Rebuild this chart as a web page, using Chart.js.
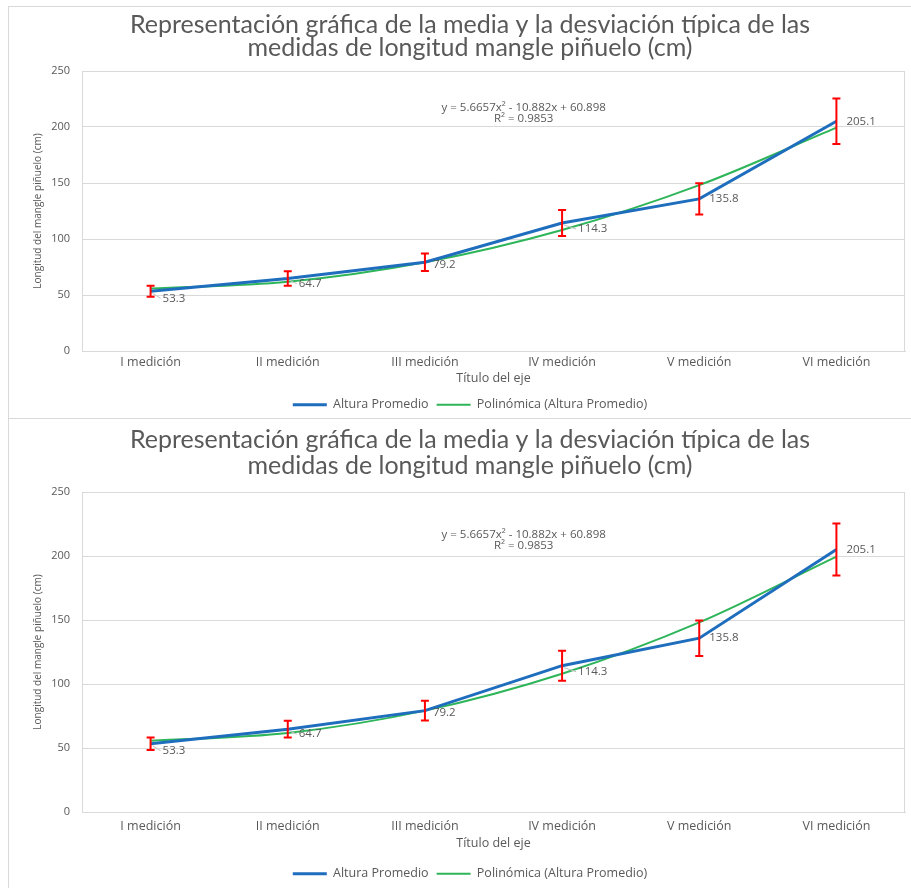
<!DOCTYPE html>
<html lang="es">
<head>
<meta charset="utf-8">
<title>Longitud mangle piñuelo</title>
<script src="https://cdn.jsdelivr.net/npm/chart.js@4/dist/chart.umd.min.js"></script>
<style>
  html, body { margin: 0; padding: 0; background: #ffffff; }
  body { width: 911px; height: 888px; position: relative; overflow: hidden; }
  .panel { position: absolute; left: 8px; width: 902px; border-left: 1px solid #d9d9d9; }
  #panel1 { top: 6px; height: 411px; border-top: 1px solid #d9d9d9; border-bottom: 1px solid #d9d9d9; }
  #panel2 { top: 419px; height: 469px; }
  canvas { display: block; }
</style>
</head>
<body>
<div class="panel" id="panel1"><canvas id="grafico1" width="902" height="411"></canvas></div>
<div class="panel" id="panel2"><canvas id="grafico2" width="902" height="469"></canvas></div>
<script>
// mediciones y valores promedio (cm)
let categorias = ["I medición", "II medición", "III medición", "IV medición", "V medición", "VI medición"];
let alturaPromedio = [53.3, 64.7, 79.2, 114.3, 135.8, 205.1];
let desviacionTipica = [4.9, 6.5, 7.8, 11.7, 13.9, 20.3];
let tendencia = [55.7, 61.8, 79.2, 108.0, 148.1, 199.5];
let ecuacion = ["y = 5.6657x² - 10.882x + 60.898", "R² = 0.9853"];
let ejeY = { min: 0, max: 250, paso: 50 };

let titulo = ["Representación gráfica de la media y la desviación típica de las",
  "medidas de longitud mangle piñuelo (cm)"];

const gris = "#595959";
const grisLinea = "#d9d9d9";

// barras de error rojas sobre la serie principal
const barrasError = {
  id: "barrasError",
  afterDatasetsDraw(chart) {
    const meta = chart.getDatasetMeta(0);
    const y = chart.scales.y;
    const ctx = chart.ctx;
    ctx.save();
    ctx.strokeStyle = "#ff0000";
    ctx.lineWidth = 2;
    meta.data.forEach(function (p, i) {
      let v = alturaPromedio[i];
      let e = desviacionTipica[i];
      let y1 = y.getPixelForValue(v + e);
      let y2 = y.getPixelForValue(v - e);
      ctx.beginPath();
      ctx.moveTo(p.x, y1);
      ctx.lineTo(p.x, y2);
      ctx.moveTo(p.x - 4, y1);
      ctx.lineTo(p.x + 4, y1);
      ctx.moveTo(p.x - 4, y2);
      ctx.lineTo(p.x + 4, y2);
      ctx.stroke();
    });
    ctx.restore();
  }
};

// etiquetas de valor junto a cada punto
const etiquetas = {
  id: "etiquetas",
  afterDatasetsDraw(chart, args, opts) {
    const meta = chart.getDatasetMeta(0);
    const ctx = chart.ctx;
    ctx.save();
    ctx.font = "11.5px 'Open Sans'";
    ctx.fillStyle = gris;
    ctx.textBaseline = "middle";
    ctx.textAlign = "left";
    meta.data.forEach(function (p, i) {
      let d = opts.desplazamientos[i];
      let tx = p.x + d[0];
      let ty = p.y + d[1];
      if (d[1] > 3) {
        ctx.strokeStyle = "#bfbfbf";
        ctx.lineWidth = 1;
        ctx.beginPath();
        ctx.moveTo(p.x + 2, p.y + 2);
        ctx.lineTo(tx - 2, ty);
        ctx.stroke();
      }
      ctx.fillText(alturaPromedio[i].toFixed(1), tx, ty);
    });
    ctx.restore();
  }
};

// ecuación de la tendencia y coeficiente R²
const textoTendencia = {
  id: "textoTendencia",
  afterDatasetsDraw(chart) {
    const x = chart.scales.x.getPixelForValue(2.72);
    const y = chart.scales.y;
    const ctx = chart.ctx;
    ctx.save();
    ctx.font = "11.5px 'Open Sans'";
    ctx.fillStyle = gris;
    ctx.textAlign = "center";
    ctx.textBaseline = "middle";
    ctx.fillText(ecuacion[0], x, y.getPixelForValue(217));
    ctx.fillText(ecuacion[1], x, y.getPixelForValue(207.7));
    ctx.restore();
  }
};

// marco del área de trazado
const marco = {
  id: "marco",
  beforeDatasetsDraw(chart) {
    const a = chart.chartArea;
    const ctx = chart.ctx;
    ctx.save();
    ctx.strokeStyle = grisLinea;
    ctx.lineWidth = 1;
    ctx.strokeRect(Math.round(a.left) + 0.5, Math.round(a.top) + 0.5,
      Math.round(a.right - a.left) - 1, Math.round(a.bottom - a.top));
    ctx.restore();
  }
};

function crearGrafico(id, p) {
  const config = {
    type: "line",
    data: {
      labels: categorias,
      datasets: [
        {
          label: "Altura Promedio",
          data: alturaPromedio,
          borderColor: "#1f6ebe",
          backgroundColor: "#1f6ebe",
          borderWidth: 3,
          pointRadius: 0,
          tension: 0,
        },
        {
          label: "Polinómica (Altura Promedio)",
          data: tendencia,
          borderColor: "#2eb55a",
          backgroundColor: "#2eb55a",
          borderWidth: 2,
          pointRadius: 0,
          cubicInterpolationMode: "monotone",
        },
      ],
    },
    options: {
      responsive: false,
      animation: false,
      layout: { padding: { left: 26, right: 6, top: 0, bottom: p.rellenoAbajo } },
      plugins: {
        title: {
          display: true,
          text: titulo,
          color: gris,
          font: { family: "Lato", size: 25, weight: "normal", lineHeight: p.alturaTitulo },
          padding: { top: p.tituloArriba, bottom: p.tituloAbajo },
        },
        legend: {
          position: "bottom",
          labels: {
            usePointStyle: true,
            pointStyle: "line",
            pointStyleWidth: 34,
            color: gris,
            font: { family: "Open Sans", size: 12.5 },
            padding: 8,
          },
        },
        tooltip: { enabled: false },
        etiquetas: { desplazamientos: [[12, 7], [11, 5], [8, 2], [16, 6], [10, 0], [10, 0]] },
      },
      scales: {
        x: {
          offset: true,
          grid: { display: false, drawTicks: false },
          border: { color: grisLinea },
          ticks: { color: gris, font: { family: "Open Sans", size: 12.5 }, padding: p.ticksX },
          title: {
            display: true,
            text: "Título del eje",
            color: gris,
            font: { family: "Open Sans", size: 12.5 },
            padding: { top: 0, bottom: p.tituloXAbajo },
          },
          afterFit(scale) {
            scale.height = p.altoX;
          },
        },
        y: {
          min: ejeY.min,
          max: ejeY.max,
          grid: { color: grisLinea, drawTicks: false },
          border: { display: false },
          ticks: { stepSize: ejeY.paso, color: gris, font: { family: "Open Sans", size: 11 }, padding: 12 },
          title: {
            display: true,
            text: "Longitud del mangle piñuelo (cm)",
            color: gris,
            font: { family: "Open Sans", size: 10, lineHeight: 0.6 },
            padding: { top: 0, bottom: 0 },
          },
          afterFit(scale) {
            scale.width = 47;
          },
        },
      },
    },
    plugins: [marco, barrasError, etiquetas, textoTendencia],
  };
  return new Chart(document.getElementById(id), config);
}

crearGrafico("grafico1", { alturaTitulo: 0.92, tituloArriba: 6.5, tituloAbajo: 11.5, ticksX: 3.5, tituloXAbajo: 5, altoX: 39.5, rellenoAbajo: -3 });
crearGrafico("grafico2", { alturaTitulo: 1.04, tituloArriba: 8, tituloAbajo: 13, ticksX: 6.5, tituloXAbajo: 9, altoX: 47.5, rellenoAbajo: -2 });
</script>
</body>
</html>
